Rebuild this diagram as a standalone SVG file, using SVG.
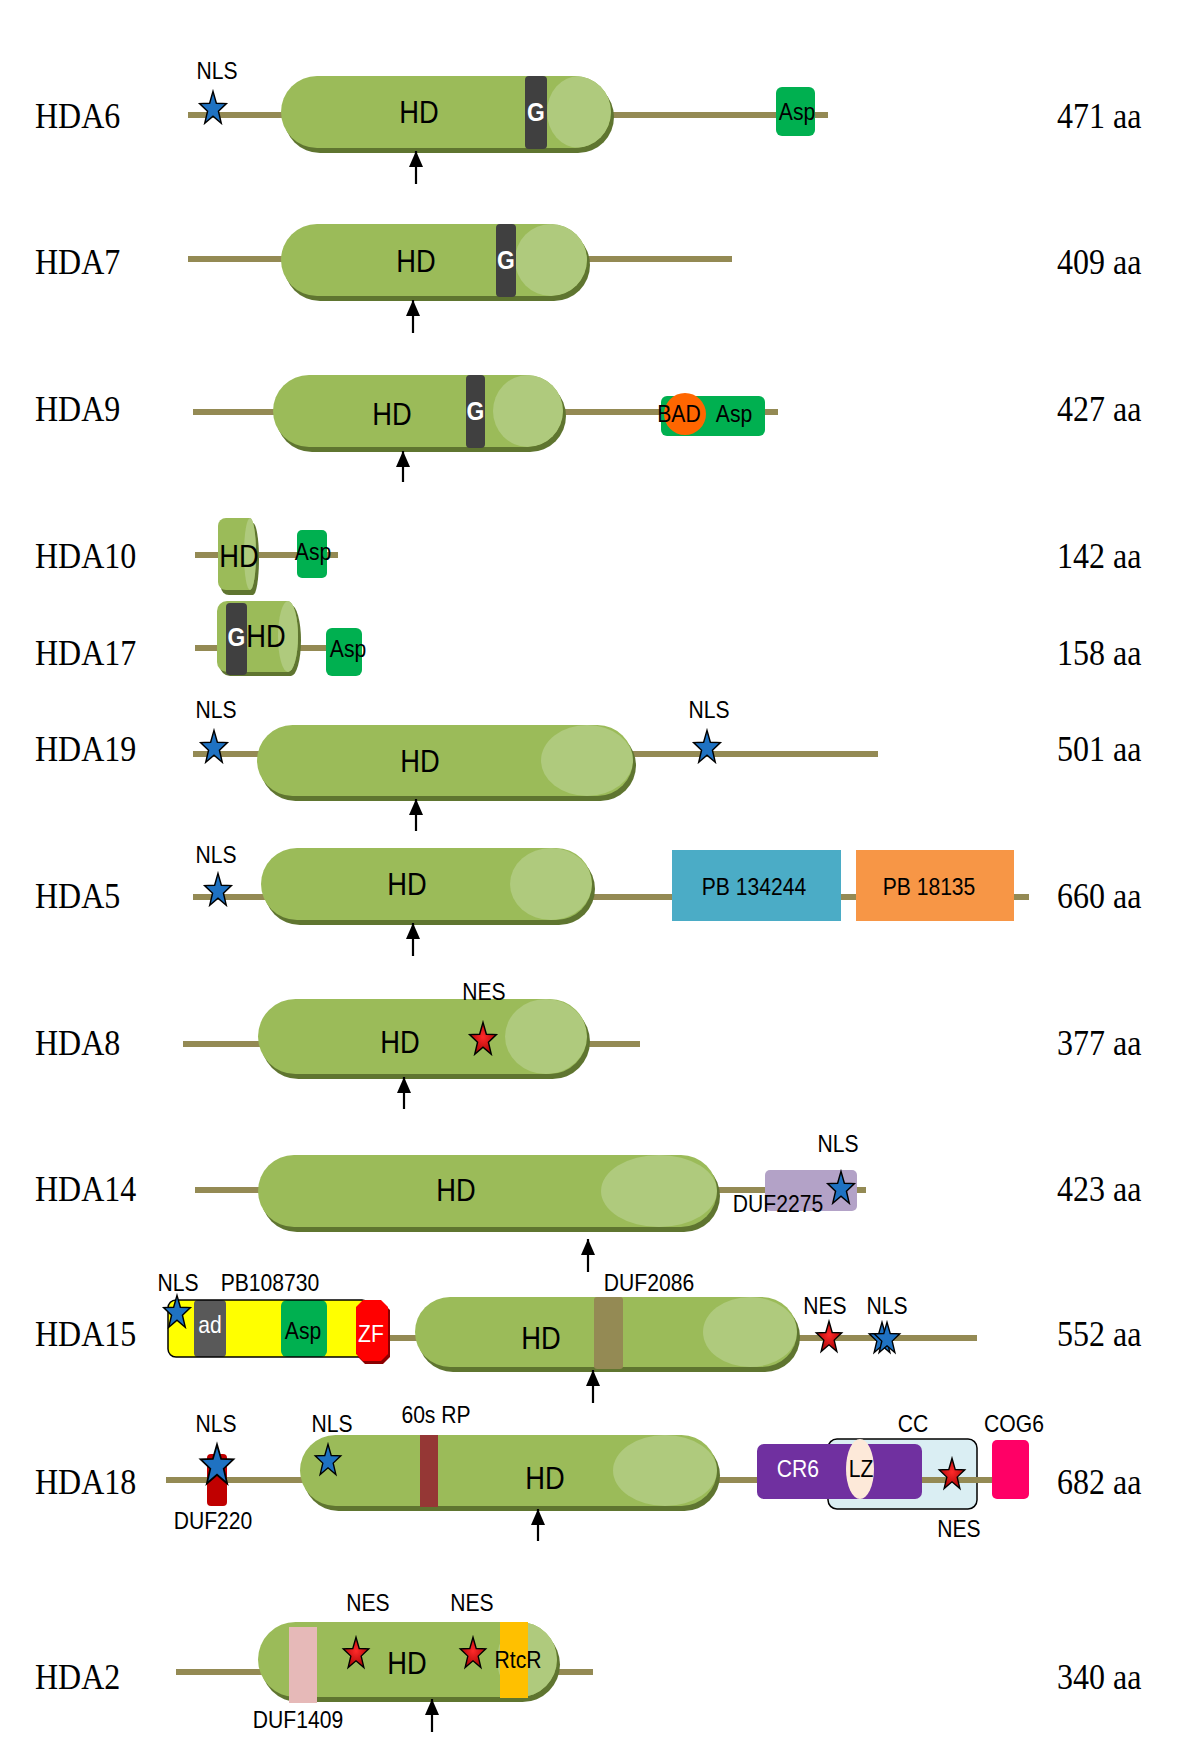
<svg xmlns="http://www.w3.org/2000/svg" xmlns:xlink="http://www.w3.org/1999/xlink" width="1200" height="1757" viewBox="0 0 1200 1757">
<style>
.bb{stroke:#948A54;stroke-width:6}
.sh{fill:#5F7530}
.bd{fill:#9BBB59}
.lt{fill:#AFCA7D}
.gb{fill:#404040}
.ar{stroke:#000;stroke-width:2.2;marker-end:url(#ah)}
.lbl{font-family:"Liberation Serif","Times New Roman",serif;font-size:32px;fill:#000;dominant-baseline:central;transform-box:fill-box;transform-origin:center;transform:scaleY(1.15)}
.t{font-family:"Liberation Sans",Arial,sans-serif;font-size:24px;fill:#000;text-anchor:middle;dominant-baseline:central;transform-box:fill-box;transform-origin:center;transform:scaleX(.88)}
.hd{font-size:31px}
.w{fill:#fff}
.bo{font-weight:bold;font-size:26px}
.sb{fill:#1F72C2;stroke:#000;stroke-width:1.3}
.sr{fill:url(#rg);stroke:#000;stroke-width:1.3}
.asp{fill:#00B050}
</style>
<defs>
<marker id="ah" viewBox="0 0 16 14" refX="16" refY="7" markerWidth="16" markerHeight="14" markerUnits="userSpaceOnUse" orient="auto"><path d="M0,0 L16,7 L0,14 Z" fill="#000"/></marker>
<path id="star" d="M0,-16 L3.06,-5.26 L12.18,-4.94 L4.94,2.01 L7.52,12.94 L0,6.5 L-7.52,12.94 L-4.94,2.01 L-12.18,-4.94 L-3.06,-5.26 Z"/>
<radialGradient id="rg" cx="0.5" cy="0.45" r="0.6"><stop offset="0" stop-color="#FF2A2A"/><stop offset="1" stop-color="#A00000"/></radialGradient>
<clipPath id="c6"><rect x="281" y="76" width="330" height="72" rx="36"/></clipPath>
<clipPath id="c7"><rect x="281" y="224" width="306" height="72" rx="36"/></clipPath>
<clipPath id="c9"><rect x="273" y="375" width="290" height="72" rx="36"/></clipPath>
<clipPath id="c19"><rect x="257" y="725" width="376" height="71" rx="35.5"/></clipPath>
<clipPath id="c5"><rect x="261" y="848" width="331" height="72" rx="36"/></clipPath>
<clipPath id="c8"><rect x="258" y="999" width="329" height="75" rx="37.5"/></clipPath>
<clipPath id="c14"><rect x="258" y="1155" width="459" height="72" rx="36"/></clipPath>
<clipPath id="c15"><rect x="415" y="1297" width="382" height="70" rx="35"/></clipPath>
<clipPath id="c18"><rect x="300" y="1435" width="417" height="71" rx="35.5"/></clipPath>
<clipPath id="c2"><rect x="258" y="1622" width="299" height="75" rx="37.5"/></clipPath>
</defs>
<rect width="1200" height="1757" fill="#fff"/>

<g id="hda6">
<line class="bb" x1="188" y1="115" x2="828" y2="115"/>
<rect class="sh" x="284" y="81" width="330" height="72" rx="36"/>
<rect class="bd" x="281" y="76" width="330" height="72" rx="36"/>
<ellipse class="lt" clip-path="url(#c6)" cx="579" cy="112" rx="32" ry="36"/>
<rect class="gb" x="525" y="76" width="22" height="73" rx="4"/>
<text class="t w bo" x="536" y="112">G</text>
<text class="t hd" x="419" y="112">HD</text>
<use href="#star" class="sb" transform="translate(213,109) scale(1.1)"/>
<text class="t" x="217" y="71">NLS</text>
<rect class="asp" x="776" y="87" width="39" height="49" rx="6"/>
<text class="t" x="797" y="112">Asp</text>
<text class="lbl" x="35" y="115">HDA6</text>
<text class="lbl" x="1057" y="115">471 aa</text>
</g>

<g id="hda7">
<line class="bb" x1="188" y1="259" x2="732" y2="259"/>
<rect class="sh" x="284" y="229" width="306" height="72" rx="36"/>
<rect class="bd" x="281" y="224" width="306" height="72" rx="36"/>
<ellipse class="lt" clip-path="url(#c7)" cx="551" cy="260" rx="36" ry="36"/>
<rect class="gb" x="496" y="224" width="20" height="73" rx="4"/>
<text class="t w bo" x="506" y="260">G</text>
<text class="t hd" x="416" y="261">HD</text>
<text class="lbl" x="35" y="261">HDA7</text>
<text class="lbl" x="1057" y="261">409 aa</text>
</g>

<g id="hda9">
<line class="bb" x1="193" y1="412" x2="778" y2="412"/>
<rect class="sh" x="276" y="380" width="290" height="72" rx="36"/>
<rect class="bd" x="273" y="375" width="290" height="72" rx="36"/>
<ellipse class="lt" clip-path="url(#c9)" cx="528" cy="411" rx="35" ry="36"/>
<rect class="gb" x="466" y="375" width="19" height="73" rx="4"/>
<text class="t w bo" x="475.5" y="411">G</text>
<text class="t hd" x="392" y="414">HD</text>
<rect class="asp" x="661" y="396" width="104" height="40" rx="6"/>
<circle cx="685" cy="414" r="21" fill="#FF6600"/>
<text class="t" x="679" y="414">BAD</text>
<text class="t" x="734" y="414">Asp</text>
<text class="lbl" x="35" y="408">HDA9</text>
<text class="lbl" x="1057" y="408">427 aa</text>
</g>

<g id="hda10">
<line class="bb" x1="195" y1="555" x2="338" y2="555"/>
<path class="sh" transform="translate(3,5)" d="M226,518 H250 A6 36 0 0 1 250,590 H226 A8 8 0 0 1 218,582 V526 A8 8 0 0 1 226,518 Z"/>
<path class="bd" d="M226,518 H250 A6 36 0 0 1 250,590 H226 A8 8 0 0 1 218,582 V526 A8 8 0 0 1 226,518 Z"/>
<ellipse class="lt" cx="250" cy="554" rx="6" ry="36"/>
<text class="t hd" x="239" y="556">HD</text>
<rect class="asp" x="297" y="530" width="30" height="48" rx="5"/>
<text class="t" x="313" y="552">Asp</text>
<text class="lbl" x="35" y="555">HDA10</text>
<text class="lbl" x="1057" y="555">142 aa</text>
</g>

<g id="hda17">
<line class="bb" x1="195" y1="648" x2="362" y2="648"/>
<path class="sh" transform="translate(3,4)" d="M227,601 H288 A10 35.5 0 0 1 288,672 H227 A10 10 0 0 1 217,662 V611 A10 10 0 0 1 227,601 Z"/>
<path class="bd" d="M227,601 H288 A10 35.5 0 0 1 288,672 H227 A10 10 0 0 1 217,662 V611 A10 10 0 0 1 227,601 Z"/>
<ellipse class="lt" cx="288" cy="636.5" rx="10" ry="35.5"/>
<rect class="gb" x="226" y="603" width="21" height="72" rx="4"/>
<text class="t w bo" x="236.5" y="637">G</text>
<text class="t hd" x="266" y="636">HD</text>
<rect class="asp" x="326" y="628" width="36" height="48" rx="6"/>
<text class="t" x="348" y="649">Asp</text>
<text class="lbl" x="35" y="652">HDA17</text>
<text class="lbl" x="1057" y="652">158 aa</text>
</g>

<g id="hda19">
<line class="bb" x1="193" y1="754" x2="878" y2="754"/>
<rect class="sh" x="260" y="730" width="376" height="71" rx="35.5"/>
<rect class="bd" x="257" y="725" width="376" height="71" rx="35.5"/>
<ellipse class="lt" clip-path="url(#c19)" cx="587" cy="760.5" rx="46" ry="35.5"/>
<text class="t hd" x="420" y="761">HD</text>
<use href="#star" class="sb" transform="translate(214,748) scale(1.1)"/>
<text class="t" x="216" y="710">NLS</text>
<use href="#star" class="sb" transform="translate(707,748) scale(1.1)"/>
<text class="t" x="709" y="710">NLS</text>
<text class="lbl" x="35" y="748">HDA19</text>
<text class="lbl" x="1057" y="748">501 aa</text>
</g>

<g id="hda5">
<line class="bb" x1="193" y1="897" x2="1029" y2="897"/>
<rect class="sh" x="264" y="853" width="331" height="72" rx="36"/>
<rect class="bd" x="261" y="848" width="331" height="72" rx="36"/>
<ellipse class="lt" clip-path="url(#c5)" cx="551" cy="884" rx="41" ry="36"/>
<text class="t hd" x="407" y="884">HD</text>
<use href="#star" class="sb" transform="translate(218,891) scale(1.1)"/>
<text class="t" x="216" y="855">NLS</text>
<rect x="672" y="850" width="169" height="71" fill="#4BACC6"/>
<text class="t" x="754" y="887">PB 134244</text>
<rect x="856" y="850" width="158" height="71" fill="#F79646"/>
<text class="t" x="929" y="887">PB 18135</text>
<text class="lbl" x="35" y="895">HDA5</text>
<text class="lbl" x="1057" y="895">660 aa</text>
</g>

<g id="hda8">
<line class="bb" x1="183" y1="1044" x2="640" y2="1044"/>
<rect class="sh" x="261" y="1004" width="329" height="75" rx="37.5"/>
<rect class="bd" x="258" y="999" width="329" height="75" rx="37.5"/>
<ellipse class="lt" clip-path="url(#c8)" cx="546" cy="1036.5" rx="41" ry="37.5"/>
<text class="t hd" x="400" y="1042">HD</text>
<use href="#star" class="sr" transform="translate(483,1040) scale(1.1)"/>
<text class="t" x="484" y="992">NES</text>
<text class="lbl" x="35" y="1042">HDA8</text>
<text class="lbl" x="1057" y="1042">377 aa</text>
</g>

<g id="hda14">
<line class="bb" x1="195" y1="1190" x2="866" y2="1190"/>
<rect class="sh" x="261" y="1160" width="459" height="72" rx="36"/>
<rect class="bd" x="258" y="1155" width="459" height="72" rx="36"/>
<ellipse class="lt" clip-path="url(#c14)" cx="659" cy="1191" rx="58" ry="36"/>
<text class="t hd" x="456" y="1190">HD</text>
<rect x="765" y="1170" width="92" height="41" rx="5" fill="#B3A2C7"/>
<text class="t" x="778" y="1204">DUF2275</text>
<use href="#star" class="sb" transform="translate(841,1189) scale(1.1)"/>
<text class="t" x="838" y="1144">NLS</text>
<text class="lbl" x="35" y="1188">HDA14</text>
<text class="lbl" x="1057" y="1188">423 aa</text>
</g>

<g id="hda15">
<line class="bb" x1="370" y1="1338" x2="977" y2="1338"/>
<rect x="168" y="1300" width="202" height="57" rx="8" fill="#FFFF00"/>
<rect x="194" y="1300" width="32" height="57" rx="4" fill="#595959"/>
<text class="t w" x="210" y="1325">ad</text>
<rect class="asp" x="281" y="1300" width="46" height="57" rx="6"/>
<text class="t" x="303" y="1331">Asp</text>
<rect x="168" y="1300" width="202" height="57" rx="8" fill="none" stroke="#000" stroke-width="1.5"/>
<polygon transform="translate(2,3)" points="363,1300 381,1300 388,1307 388,1354 381,1361 363,1361 356,1354 356,1307" fill="#8B0000"/>
<polygon points="363,1300 381,1300 388,1307 388,1354 381,1361 363,1361 356,1354 356,1307" fill="#FF0000"/>
<text class="t w" x="371" y="1334">ZF</text>
<use href="#star" class="sb" transform="translate(177,1313) scale(1.1)"/>
<text class="t" x="178" y="1283">NLS</text>
<text class="t" x="270" y="1283">PB108730</text>
<rect class="sh" x="418" y="1302" width="382" height="70" rx="35"/>
<rect class="bd" x="415" y="1297" width="382" height="70" rx="35"/>
<ellipse class="lt" clip-path="url(#c15)" cx="750" cy="1332" rx="47" ry="35"/>
<rect x="594" y="1297" width="29" height="72" rx="3" fill="#948A54"/>
<text class="t" x="649" y="1283">DUF2086</text>
<text class="t hd" x="541" y="1338">HD</text>
<use href="#star" class="sr" transform="translate(829,1338) scale(1.05)"/>
<text class="t" x="825" y="1306">NES</text>
<use href="#star" class="sb" transform="translate(882,1339) scale(1.05)"/>
<use href="#star" class="sb" transform="translate(887,1339) scale(1.05)"/>
<text class="t" x="887" y="1306">NLS</text>
<text class="lbl" x="35" y="1333">HDA15</text>
<text class="lbl" x="1057" y="1333">552 aa</text>
</g>

<g id="hda18">
<rect x="828" y="1439" width="149" height="70" rx="9" fill="#DAEEF3" stroke="#000" stroke-width="1.5"/>
<line class="bb" x1="166" y1="1480" x2="992" y2="1480"/>
<rect x="207" y="1454" width="20" height="52" rx="4" fill="#C00000"/>
<text class="t" x="213" y="1521">DUF220</text>
<use href="#star" class="sb" transform="translate(217,1466) scale(1.35)"/>
<text class="t" x="216" y="1424">NLS</text>
<rect class="sh" x="303" y="1440" width="417" height="71" rx="35.5"/>
<rect class="bd" x="300" y="1435" width="417" height="71" rx="35.5"/>
<ellipse class="lt" clip-path="url(#c18)" cx="665" cy="1470.5" rx="52" ry="35.5"/>
<rect x="420" y="1435" width="18" height="72" fill="#953735"/>
<text class="t" x="436" y="1415">60s RP</text>
<use href="#star" class="sb" transform="translate(328,1461) scale(1.05)"/>
<text class="t" x="332" y="1424">NLS</text>
<text class="t hd" x="545" y="1478">HD</text>
<rect x="757" y="1444" width="165" height="55" rx="7" fill="#7030A0"/>
<text class="t w" x="798" y="1469">CR6</text>
<ellipse cx="860" cy="1469" rx="14" ry="30" fill="#FDE9D9"/>
<text class="t" x="861" y="1469">LZ</text>
<use href="#star" class="sr" transform="translate(952,1475) scale(1.05)"/>
<text class="t" x="959" y="1529">NES</text>
<text class="t" x="913" y="1424">CC</text>
<rect x="992" y="1440" width="37" height="59" rx="5" fill="#FF0066"/>
<text class="t" x="1014" y="1424">COG6</text>
<text class="lbl" x="35" y="1481">HDA18</text>
<text class="lbl" x="1057" y="1481">682 aa</text>
</g>

<g id="hda2">
<line class="bb" x1="176" y1="1672" x2="593" y2="1672"/>
<rect class="sh" x="261" y="1627" width="299" height="75" rx="37.5"/>
<rect class="bd" x="258" y="1622" width="299" height="75" rx="37.5"/>
<ellipse class="lt" clip-path="url(#c2)" cx="527" cy="1659.5" rx="30" ry="37.5"/>
<rect x="289" y="1627" width="28" height="76" fill="#E6B9B8"/>
<text class="t" x="298" y="1720">DUF1409</text>
<rect x="500" y="1622" width="28" height="76" fill="#FFC000"/>
<text class="t" x="518" y="1660">RtcR</text>
<use href="#star" class="sr" transform="translate(356,1654) scale(1.05)"/>
<text class="t" x="368" y="1603">NES</text>
<use href="#star" class="sr" transform="translate(473,1654) scale(1.05)"/>
<text class="t" x="472" y="1603">NES</text>
<text class="t hd" x="407" y="1663">HD</text>
<text class="lbl" x="35" y="1676">HDA2</text>
<text class="lbl" x="1057" y="1676">340 aa</text>
</g>

<g id="connectors">
<line class="ar" x1="416" y1="184" x2="416" y2="151"/>
<line class="ar" x1="413" y1="333" x2="413" y2="300"/>
<line class="ar" x1="403" y1="482" x2="403" y2="451"/>
<line class="ar" x1="416" y1="831" x2="416" y2="799"/>
<line class="ar" x1="413" y1="956" x2="413" y2="923"/>
<line class="ar" x1="404" y1="1109" x2="404" y2="1077"/>
<line class="ar" x1="588" y1="1272" x2="588" y2="1239"/>
<line class="ar" x1="593" y1="1403" x2="593" y2="1370"/>
<line class="ar" x1="538" y1="1541" x2="538" y2="1509"/>
<line class="ar" x1="432" y1="1732" x2="432" y2="1699"/>
</g>
</svg>
